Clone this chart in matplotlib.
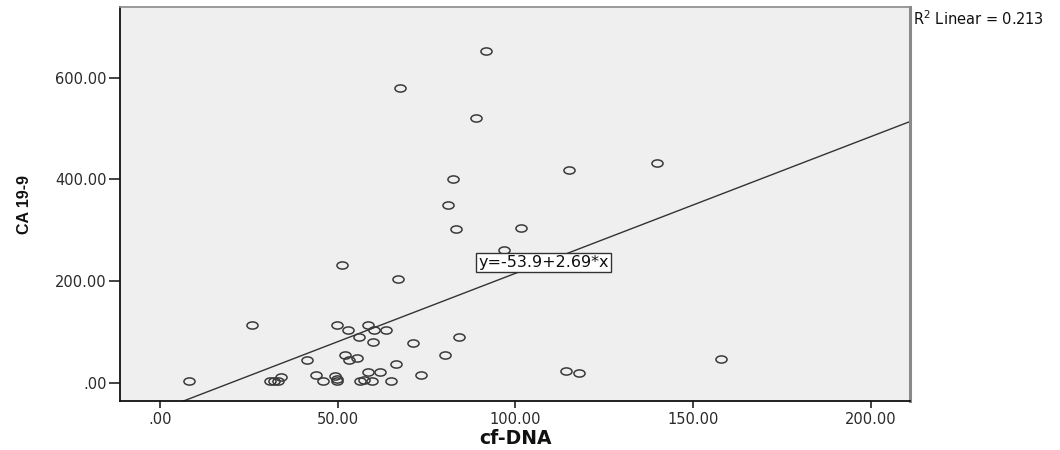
import numpy as np
import matplotlib
matplotlib.use("Agg")
import matplotlib.pyplot as plt
import matplotlib.path as mpath
from matplotlib.transforms import Affine2D
from matplotlib.ticker import FuncFormatter

# --- Data ---
cf_dna = [91.8, 67.5, 88.8, 139.8, 82.4, 115.0, 80.9, 83.2, 101.6, 96.8,
          51.1, 67.0, 25.8, 49.9, 52.8, 58.6, 60.3, 63.5, 55.9, 60.0,
          71.1, 84.1, 80.3, 41.3, 52.1, 53.3, 55.4, 66.4, 157.8, 114.3,
          117.9, 8.2, 31.0, 32.1, 33.1, 34.0, 43.9, 45.8, 49.3, 49.7,
          49.9, 56.3, 57.3, 58.6, 59.7, 62.0, 65.1, 73.5]
ca199 = [652, 579, 521, 433, 401, 419, 350, 303, 305, 261,
         231, 204, 113, 114, 103, 114, 103, 103, 90, 80,
         77, 90, 54, 44, 54, 44, 48, 37, 46, 23,
         19.5, 4, 4, 4, 3, 12, 14, 4, 13, 8,
         4, 4, 6, 20, 4, 20, 4, 14]

intercept = -53.9
slope = 2.69
r2 = 0.213

x_ticks = [0, 50, 100, 150, 200]
y_ticks = [0, 200, 400, 600]

# --- Figure ---
fig = plt.figure(figsize=(10.6, 4.5), dpi=100)
ax = fig.add_axes([0.1132, 0.1089, 0.7453, 0.8755])
ax.set_facecolor("#efefef")

# open circles, slightly wide like the source
ellipse = mpath.Path.unit_circle().transformed(Affine2D().scale(1.55, 1.0))
ax.plot(cf_dna, ca199, linestyle="none", marker=ellipse, markersize=8,
        markerfacecolor="none", markeredgecolor="#3a3a3a", markeredgewidth=1.1,
        zorder=3)

# fit line
xl = np.array([-20, 230])
ax.plot(xl, intercept + slope * xl, color="#333333", lw=1.0, zorder=2)

ax.set_xlim(-11.3, 211.1)
ax.set_ylim(-36.2, 739.4)
ax.set_xticks(x_ticks)
ax.set_yticks(y_ticks)

fmt = FuncFormatter(lambda v, p: f"{v:.2f}".lstrip("0") if v == 0 else f"{v:.2f}")
ax.xaxis.set_major_formatter(fmt)
ax.yaxis.set_major_formatter(fmt)

ax.tick_params(axis="y", length=8, width=1.2, pad=1.5, labelsize=10.5,
               labelcolor="#2a2a2a", color="#222222")
ax.tick_params(axis="x", length=5, width=1.2, pad=3, labelsize=10.5,
               labelcolor="#2a2a2a", color="#222222")

for s in ["left", "bottom"]:
    ax.spines[s].set_color("#111111")
    ax.spines[s].set_linewidth(1.3)
ax.spines["top"].set_color("#8a8a8a")
ax.spines["top"].set_linewidth(1.2)
ax.spines["right"].set_color("#8a8a8a")
ax.spines["right"].set_linewidth(2.2)

ax.set_xlabel("cf-DNA", fontsize=13.5, fontweight="bold", color="#111111")
ax.xaxis.set_label_coords(0.501, -0.072)
ax.set_ylabel("CA 19-9", fontsize=11.5, fontweight="bold", color="#111111",
              family="Liberation Sans")
ax.yaxis.set_label_coords(-0.111, 0.5)

# equation label sitting on the fit line
lbl_x = 108
ax.text(lbl_x, intercept + slope * lbl_x, f"y={intercept}+{slope}*x",
        ha="center", va="center", fontsize=11.5, color="#111111", zorder=4,
        bbox=dict(boxstyle="square,pad=0.15", facecolor="white",
                  edgecolor="#333333", linewidth=1.0))

fig.text(0.861, 0.958, f"R$^2$ Linear = {r2}", ha="left", va="center",
         fontsize=10.5, color="#111111")

fig.savefig("out.png", dpi=100)
